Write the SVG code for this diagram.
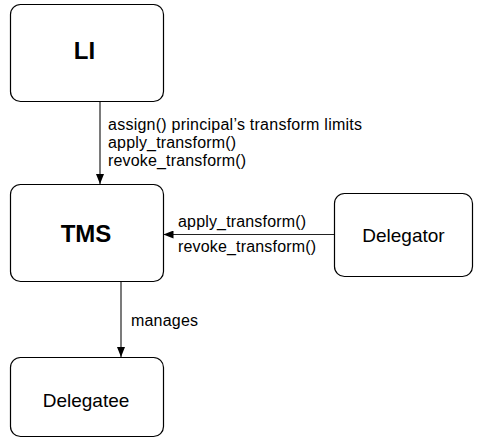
<svg xmlns="http://www.w3.org/2000/svg" width="478" height="440" viewBox="0 0 478 440">
  <style>
    .box { fill: #fff; stroke: #000; stroke-width: 1.2; }
    .title { font-family: "Liberation Sans", Arial, sans-serif; font-weight: bold; font-size: 24px; fill: #000; text-anchor: middle; }
    .name { font-family: "Liberation Sans", Arial, sans-serif; font-size: 19px; fill: #000; text-anchor: middle; }
    .lbl { font-family: "Liberation Sans", Arial, sans-serif; font-size: 16px; fill: #000; }
    .edge { stroke: #222; stroke-width: 1.2; fill: none; marker-end: url(#arr); }
  </style>
  <defs>
    <marker id="arr" viewBox="0 0 10 8" refX="10" refY="4" markerWidth="10" markerHeight="8" markerUnits="userSpaceOnUse" orient="auto">
      <path d="M0,0 L10,4 L0,8 Z" fill="#000"/>
    </marker>
  </defs>
  <rect width="478" height="440" fill="#fff"/>
  <g id="connectors">
    <line class="edge" x1="100" y1="101" x2="100" y2="184"/>
    <line class="edge" x1="334" y1="234.5" x2="163.5" y2="234.5"/>
    <line class="edge" x1="121" y1="281" x2="121" y2="357"/>
    <text class="lbl" x="108" y="129.5" textLength="254">assign() principal’s transform limits</text>
    <text class="lbl" x="108" y="147.5" textLength="128">apply_transform()</text>
    <text class="lbl" x="108" y="165.5" textLength="138">revoke_transform()</text>
    <text class="lbl" x="178" y="226.5" textLength="128">apply_transform()</text>
    <text class="lbl" x="178" y="252" textLength="138">revoke_transform()</text>
    <text class="lbl" x="131" y="325.5" textLength="67">manages</text>
  </g>
  <g id="LI">
    <rect class="box" x="10.5" y="4.5" width="153" height="97" rx="10"/>
    <text class="title" x="84.5" y="59">LI</text>
  </g>
  <g id="TMS">
    <rect class="box" x="10.5" y="184.5" width="153" height="97" rx="10"/>
    <text class="title" x="86" y="242">TMS</text>
  </g>
  <g id="Delegator">
    <rect class="box" x="334.5" y="193.5" width="138" height="83" rx="10"/>
    <text class="name" x="403.5" y="242">Delegator</text>
  </g>
  <g id="Delegatee">
    <rect class="box" x="10.5" y="357.5" width="153" height="79" rx="10"/>
    <text class="name" x="86" y="407">Delegatee</text>
  </g>
</svg>
